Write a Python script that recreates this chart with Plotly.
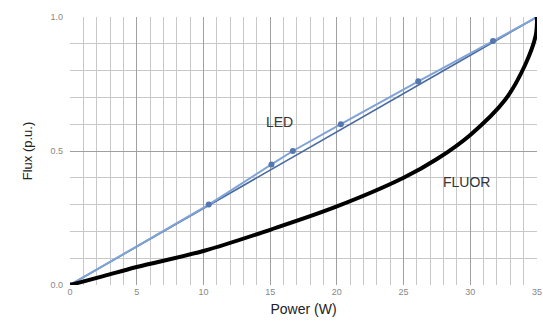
import plotly.graph_objects as go

# Data
led_x = [0, 10.4, 15.1, 16.7, 20.3, 26.1, 31.7, 35]
led_y = [0, 0.30, 0.45, 0.50, 0.60, 0.76, 0.91, 1.0]
ref_x = [0, 35]
ref_y = [0, 1.0]
fluor_x = [0, 2.5, 5, 10, 15, 20, 25, 27.5, 30, 32.6, 34.1, 34.9, 35]
fluor_y = [0, 0.033, 0.067, 0.127, 0.206, 0.293, 0.40, 0.47, 0.56, 0.69, 0.82, 0.93, 1.0]
x_ticks = [0, 5, 10, 15, 20, 25, 30, 35]
y_ticks = [0.0, 0.5, 1.0]
y_tick_text = ["0.0", "0.5", "1.0"]

fig = go.Figure()
fig.add_trace(go.Scatter(x=ref_x, y=ref_y, mode="lines",
                         line=dict(color="#4a6aa0", width=1.6), showlegend=False))
fig.add_trace(go.Scatter(x=led_x, y=led_y, mode="lines+markers",
                         line=dict(color="#7fa3d6", width=2),
                         marker=dict(color="#5577b0", size=6), showlegend=False))
fig.add_trace(go.Scatter(x=fluor_x, y=fluor_y, mode="lines",
                         line=dict(color="#000000", width=4, shape="spline", smoothing=1.0),
                         showlegend=False))

fig.add_annotation(x=15.7, y=0.61, text="LED", showarrow=False,
                   font=dict(family="Liberation Sans, Arial", size=14, color="#333333"))
fig.add_annotation(x=29.7, y=0.385, text="FLUOR", showarrow=False,
                   font=dict(family="Liberation Sans, Arial", size=14, color="#333333"))

fig.update_layout(
    width=543, height=329,
    margin=dict(l=70, r=6, t=17, b=44, autoexpand=False),
    plot_bgcolor="white", paper_bgcolor="white",
    font=dict(family="Liberation Sans, Arial", color="#222222"),
    xaxis=dict(range=[0, 35], tickvals=x_ticks, showgrid=True, gridcolor="#a0a0a0",
               gridwidth=1, zeroline=False, showline=False, ticklabeloverflow="allow",
               automargin=False,
               tickfont=dict(size=9, color="#888888"),
               minor=dict(dtick=1, showgrid=True, gridcolor="#c8c8c8", gridwidth=1),
               title=dict(text="Power (W)", font=dict(size=14, color="#222222"), standoff=8)),
    yaxis=dict(range=[0, 1.0], tickvals=y_ticks, ticktext=y_tick_text, showgrid=True,
               gridcolor="#a0a0a0", gridwidth=1, zeroline=False, showline=False,
               automargin=False,
               tickfont=dict(size=9, color="#888888"), ticklabelstandoff=6,
               minor=dict(dtick=0.1, showgrid=True, gridcolor="#c8c8c8", gridwidth=1),
               title=dict(text="Flux (p.u.)", font=dict(size=13, color="#222222"), standoff=14)),
)

fig.write_html("out.html")
